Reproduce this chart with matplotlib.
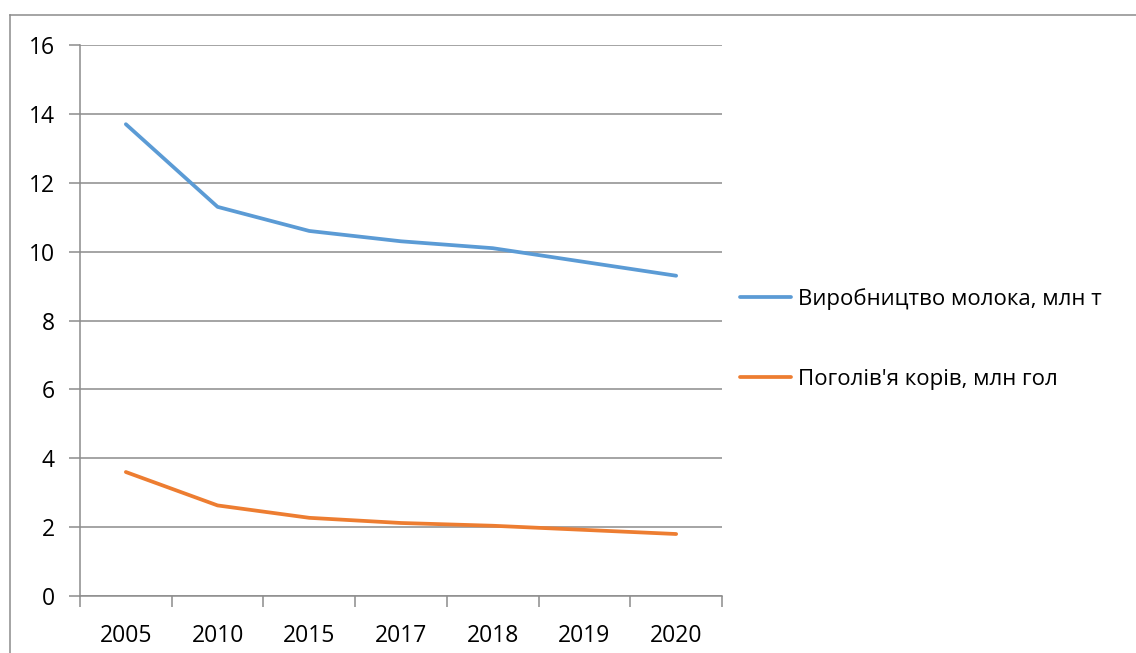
import matplotlib
matplotlib.use("Agg")
import matplotlib.pyplot as plt
from matplotlib.lines import Line2D

years = ["2005", "2010", "2015", "2017", "2018", "2019", "2020"]
milk = [13.7, 11.3, 10.6, 10.3, 10.1, 9.7, 9.3]
cows = [3.6, 2.63, 2.27, 2.12, 2.04, 1.92, 1.8]
milk_label = "Виробництво молока, млн т"
cows_label = "Поголів'я корів, млн гол"

W, H = 1136, 653
plt.rcParams["font.family"] = ["Open Sans", "DejaVu Sans"]

fig = plt.figure(figsize=(W / 100, H / 100), dpi=100)
ax = fig.add_axes([80 / W, 1 - 596 / H, (722 - 80) / W, (596 - 45) / H])

grid_c = "#8c8c8c"
x = range(len(years))
ax.plot(x, milk, color="#5B9BD5", lw=2.7, solid_capstyle="round", label=milk_label)
ax.plot(x, cows, color="#ED7D31", lw=2.7, solid_capstyle="round", label=cows_label)

ax.set_xlim(-0.5, len(years) - 0.5)
ax.set_ylim(0, 16)
ax.set_yticks(range(0, 17, 2))
ax.yaxis.grid(True, color=grid_c, lw=1.1)
ax.set_axisbelow(True)

# category ticks sit between the labels, like in Excel
ax.set_xticks([i - 0.5 for i in range(len(years) + 1)])
ax.set_xticklabels([])
ax.set_xticks(list(x), minor=True)
ax.set_xticklabels(years, minor=True)
ax.tick_params(axis="x", which="major", length=8, width=1.1, color=grid_c, direction="out")
ax.tick_params(axis="x", which="minor", length=0, pad=20, labelsize=16.5)
ax.tick_params(axis="y", length=8, width=1.1, color=grid_c, pad=10, labelsize=16.5)

for s in ["top", "right"]:
    ax.spines[s].set_visible(False)
for s in ["left", "bottom"]:
    ax.spines[s].set_color(grid_c)
    ax.spines[s].set_linewidth(1.1)

fig.legend(loc="center left", bbox_to_anchor=(740 / W, 1 - 339 / H), frameon=False,
           fontsize=16, handlelength=2.3, handletextpad=0.3, labelspacing=2.65,
           borderpad=0, borderaxespad=0)

# outer chart border (only top and left visible in the crop)
fig.add_artist(Line2D([10 / W, 1], [1 - 15 / H, 1 - 15 / H], color=grid_c, lw=1.1))
fig.add_artist(Line2D([10 / W, 10 / W], [0, 1 - 15 / H], color=grid_c, lw=1.1))

fig.savefig("out.png", dpi=100)
